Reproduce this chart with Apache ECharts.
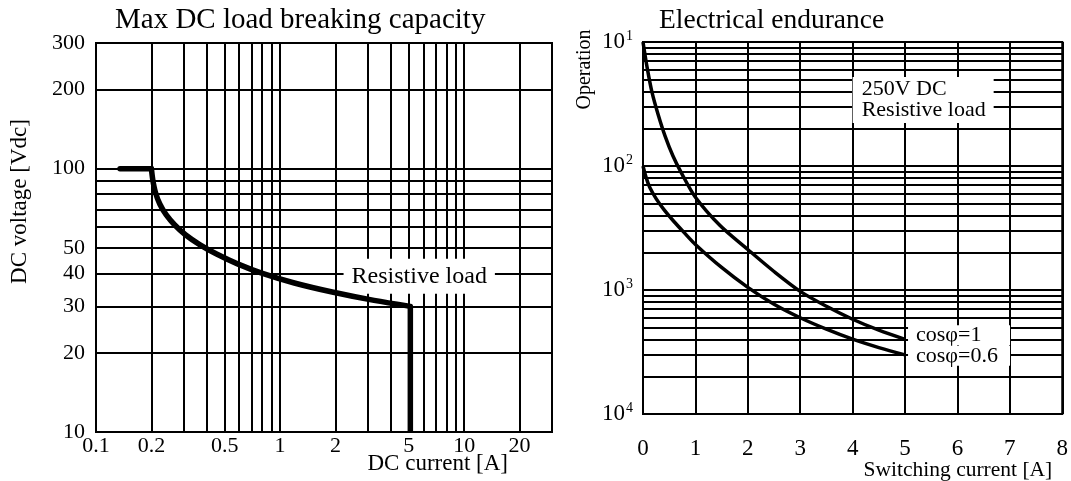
<!DOCTYPE html>
<html>
<head>
<meta charset="utf-8">
<title>Relay DC breaking capacity and electrical endurance</title>
<script src="https://cdn.jsdelivr.net/npm/echarts@6/dist/echarts.min.js"></script>
<style>
  html, body { margin: 0; padding: 0; background: #fff; }
  #chart { width: 1071px; height: 481px; }
</style>
</head>
<body>
<div id="chart"></div>
<script>
// Max DC load breaking capacity (log-log)
const flatCurrent = [0.135, 0.2];
const flatVoltage = [100, 100];
const breakCurrent = [0.2, 0.2035, 0.21, 0.2221, 0.2408, 0.2678, 0.3072, 0.3657, 0.452, 0.5872, 0.8022, 1.195, 1.919, 3.24, 5.1];
const breakVoltage = [100, 90.6, 81.6, 73.4, 66.7, 61.1, 56.0, 51.5, 47.4, 43.5, 40.0, 36.8, 34.0, 31.6, 30];
const dropCurrent = [5.1, 5.1];
const dropVoltage = [30, 10];
const currentGrid = [0.2, 0.3, 0.4, 0.5, 0.6, 0.7, 0.8, 0.9, 1, 2, 3, 4, 5, 6, 7, 8, 9, 10, 20];
const currentLabels = [0.1, 0.2, 0.5, 1, 2, 5, 10, 20];
const voltageGrid = [20, 30, 40, 50, 60, 70, 80, 90, 100, 200];
const voltageLabels = [10, 20, 30, 40, 50, 100, 200, 300];

// Electrical endurance
const currentCos1 = [0, 0.08, 0.17, 0.29, 0.42, 0.57, 0.74, 1, 1.47, 2, 2.5, 3, 3.5, 4, 4.5, 5];
const opsCos1 = [1e7, 6.18e6, 3.96e6, 2.59e6, 1.75e6, 1.21e6, 8.68e5, 5.6e5, 3.31e5, 2.12e5, 1.41e5, 9.75e4, 7.39e4, 5.81e4, 4.74e4, 4e4];
const currentCos06 = [0, 0.06, 0.13, 0.25, 0.4, 0.59, 0.8, 1, 1.5, 2, 2.5, 3, 3.5, 4, 4.5, 5];
const opsCos06 = [1e6, 8.06e5, 6.7e5, 5.46e5, 4.45e5, 3.57e5, 2.86e5, 2.33e5, 1.52e5, 1.05e5, 7.67e4, 5.97e4, 4.83e4, 4.01e4, 3.43e4, 3e4];
const opsGrid = [
  2e4, 3e4, 4e4, 5e4, 6e4, 7e4, 8e4, 9e4, 1e5,
  2e5, 3e5, 4e5, 5e5, 6e5, 7e5, 8e5, 9e5, 1e6,
  2e6, 3e6, 4e6, 5e6, 6e6, 7e6, 8e6, 9e6
];
const opsTicks = [1e4, 1e5, 1e6, 1e7];
const opsTickExp = ['4', '3', '2', '1'];

const FONT = 'Liberation Serif';
const pairs = (xs, ys) => xs.map((x, i) => [x, ys[i]]);
const gridLine = { show: true, lineStyle: { color: '#000', width: 2 } };
const txt = (size) => ({ fontFamily: FONT, fontSize: size, color: '#000' });

const chart = echarts.init(document.getElementById('chart'));

chart.setOption({
  animation: false,
  backgroundColor: '#fff',
  title: [
    { text: 'Max DC load breaking capacity', left: 115, top: 6, padding: 0,
      textStyle: Object.assign(txt(29), { fontWeight: 'normal' }) },
    { text: 'Electrical endurance', left: 659, top: 7, padding: 0,
      textStyle: Object.assign(txt(27.5), { fontWeight: 'normal' }) }
  ],
  grid: [
    { left: 96, top: 43, right: 519, bottom: 49, show: true, borderColor: '#000', borderWidth: 2 },
    { left: 643, top: 42, right: 8, bottom: 66, show: true, borderColor: '#000', borderWidth: 2 }
  ],
  xAxis: [
    {
      gridIndex: 0, type: 'log', logBase: 10, min: 0.1, max: 30,
      axisLine: { show: false },
      axisTick: { show: false, customValues: currentGrid },
      splitLine: gridLine,
      axisLabel: Object.assign(txt(22), { customValues: currentLabels, margin: 3, formatter: v => String(v) }),
      name: 'DC current [A]', nameLocation: 'end', nameGap: -44, nameMoveOverlap: false,
      nameTextStyle: Object.assign(txt(23), { align: 'right', verticalAlign: 'top', padding: [20, 0, 0, 0] })
    },
    {
      gridIndex: 1, type: 'value', min: 0, max: 8, interval: 1,
      axisLine: { show: false },
      axisTick: { show: false },
      splitLine: gridLine,
      axisLabel: Object.assign(txt(23), { margin: 23 }),
      name: 'Switching current [A]', nameLocation: 'end', nameGap: -10, nameMoveOverlap: false,
      nameTextStyle: Object.assign(txt(21.5), { align: 'right', verticalAlign: 'top', padding: [45, 0, 0, 0] })
    }
  ],
  yAxis: [
    {
      gridIndex: 0, type: 'log', logBase: 10, min: 10, max: 300,
      axisLine: { show: false },
      axisTick: { show: false, customValues: voltageGrid },
      splitLine: gridLine,
      axisLabel: Object.assign(txt(22), { customValues: voltageLabels, margin: 11, formatter: v => String(Math.round(v)) }),
      name: 'DC voltage [Vdc]', nameLocation: 'middle', nameRotate: 90, nameGap: 76, nameMoveOverlap: false,
      nameTextStyle: Object.assign(txt(23), { align: 'center', verticalAlign: 'middle', padding: [0, 0, 0, 72] })
    },
    {
      gridIndex: 1, type: 'log', logBase: 10, min: 1e4, max: 1e7,
      axisLine: { show: false },
      axisTick: { show: false, customValues: opsGrid.concat(opsTicks) },
      splitLine: gridLine,
      axisLabel: {
        customValues: opsTicks, margin: 10,
        formatter: v => '{b|10}{s|' + opsTickExp[Math.round(Math.log10(v)) - 4] + '}',
        rich: {
          b: { fontFamily: FONT, fontSize: 23, color: '#000', lineHeight: 25 },
          s: { fontFamily: FONT, fontSize: 14, color: '#000', lineHeight: 14, verticalAlign: 'top', padding: [0, 0, 0, 1] }
        }
      },
      name: 'Operation', nameLocation: 'middle', nameRotate: 90, nameGap: 58, nameMoveOverlap: false,
      nameTextStyle: Object.assign(txt(20), { align: 'center', verticalAlign: 'middle', padding: [0, 0, 0, 317] })
    }
  ],
  series: [
    {
      type: 'line', xAxisIndex: 0, yAxisIndex: 0, symbol: 'none', z: 3,
      data: pairs(flatCurrent, flatVoltage),
      lineStyle: { color: '#000', width: 5.5, cap: 'round', join: 'round' }
    },
    {
      type: 'line', xAxisIndex: 0, yAxisIndex: 0, symbol: 'none', smooth: 0.3, z: 3,
      data: pairs(breakCurrent, breakVoltage),
      lineStyle: { color: '#000', width: 5.5, cap: 'round', join: 'round' },
      markPoint: {
        symbol: 'rect', symbolSize: 0, z: 2, silent: true,
        data: [{ coord: [5.7, 39] }],
        label: Object.assign(txt(24), {
          show: true, position: 'inside', formatter: 'Resistive load',
          backgroundColor: '#fff', padding: [6, 8, 5, 8]
        })
      }
    },
    {
      type: 'line', xAxisIndex: 0, yAxisIndex: 0, symbol: 'none', z: 3,
      data: pairs(dropCurrent, dropVoltage),
      lineStyle: { color: '#000', width: 5.5, cap: 'butt', join: 'round' }
    },
    {
      type: 'line', xAxisIndex: 1, yAxisIndex: 1, symbol: 'none', smooth: 0.3, z: 3,
      data: pairs(currentCos1, opsCos1),
      lineStyle: { color: '#000', width: 3.5 },
      endLabel: Object.assign(txt(22), {
        show: true, formatter: 'cosφ=1', distance: 3, offset: [0, -4],
        align: 'left', width: 90, lineHeight: 20,
        backgroundColor: '#fff', padding: [0, 4, 0, 8]
      }),
      markPoint: {
        symbol: 'rect', symbolSize: 0, z: 10, silent: true,
        data: [{ coord: [4, 3.4e6] }],
        label: Object.assign(txt(22), {
          show: true, position: 'right', distance: 0, formatter: '250V DC\nResistive load',
          align: 'left', lineHeight: 21, backgroundColor: '#fff', padding: [2, 8, 2, 9]
        })
      }
    },
    {
      type: 'line', xAxisIndex: 1, yAxisIndex: 1, symbol: 'none', smooth: 0.3, z: 3,
      data: pairs(currentCos06, opsCos06),
      lineStyle: { color: '#000', width: 3.5 },
      endLabel: Object.assign(txt(22), {
        show: true, formatter: 'cosφ=0.6', distance: 3, offset: [0, 1],
        align: 'left', width: 90, lineHeight: 20,
        backgroundColor: '#fff', padding: [0, 4, 0, 8]
      })
    }
  ]
});
</script>
</body>
</html>
